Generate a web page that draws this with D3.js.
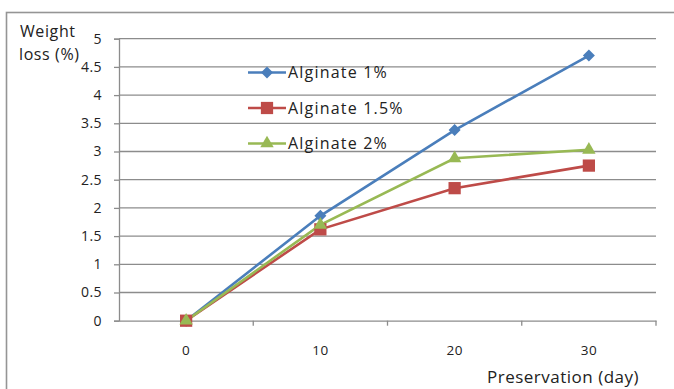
<!DOCTYPE html>
<html>
<head>
<meta charset="utf-8">
<script src="https://cdn.jsdelivr.net/npm/d3@7"></script>
<style>
  html, body { margin: 0; padding: 0; background: #fff; }
  svg { display: block; }
  text { font-family: "Open Sans", "Liberation Sans", sans-serif; fill: #222; }
</style>
</head>
<body>
<svg id="chart" width="674" height="389"></svg>
<script>
const categories = ["0", "10", "20", "30"];
const seriesNames = ["Alginate 1%", "Alginate 1.5%", "Alginate 2%"];
const alginate1 = [0, 1.86, 3.38, 4.70];
const alginate15 = [0, 1.62, 2.35, 2.75];
const alginate2 = [0, 1.70, 2.88, 3.03];
const yTicks = [0, 0.5, 1, 1.5, 2, 2.5, 3, 3.5, 4, 4.5, 5];
const yTickLabels = ["0", "0.5", "1", "1.5", "2", "2.5", "3", "3.5", "4", "4.5", "5"];

(function () {
const colors = ["#4a7ebb", "#be4b48", "#98b954"];
const series = [alginate1, alginate15, alginate2];
// marker generators: rotated square (diamond), square, triangle
const markerPath = [
  d3.symbol().type(d3.symbolSquare).size(72)(),
  d3.symbol().type(d3.symbolSquare).size(150)(),
  d3.symbol().type(d3.symbolTriangle).size(78)()
];
const markerRot = [45, 0, 0];

const svg = d3.select("#chart");

// outer frame (left and top visible)
svg.append("rect").attr("x", 6.5).attr("y", 12.5).attr("width", 700).attr("height", 400)
  .attr("fill", "#fff").attr("stroke", "#959595").attr("stroke-width", 1.6);

const pLeft = 119, pRight = 656, pTop = 38.7, pBottom = 320.7;

const x = d3.scaleBand().domain(categories).range([pLeft, pRight]).padding(0);
const y = d3.scaleLinear().domain([0, 5]).range([pBottom, pTop]);

// gridlines
svg.append("g").selectAll("line").data(yTicks.filter(d => d > 0)).join("line")
  .attr("x1", pLeft).attr("x2", pRight)
  .attr("y1", d => y(d)).attr("y2", d => y(d))
  .attr("stroke", "#8c8c8c").attr("stroke-width", 1.3);

// y axis
const yAxis = d3.axisLeft(y).tickValues(yTicks).tickSize(5).tickPadding(12)
  .tickFormat((d, i) => yTickLabels[i]);
const gy = svg.append("g").attr("transform", `translate(${pLeft},0)`).call(yAxis);
gy.select(".domain").attr("stroke", "#8c8c8c").attr("stroke-width", 1.3);
gy.selectAll(".tick line").attr("stroke", "#8c8c8c").attr("stroke-width", 1.3);
gy.selectAll(".tick text").attr("font-size", 14).attr("letter-spacing", 0.4)
  .attr("font-family", "Open Sans, sans-serif").attr("fill", "#222");

// x axis
const gx = svg.append("g").attr("transform", `translate(0,${pBottom})`)
  .call(d3.axisBottom(x).tickSize(0).tickPadding(25));
gx.select(".domain").attr("stroke", "#8c8c8c").attr("stroke-width", 1.3);
gx.selectAll(".tick text").attr("font-size", 13.5).attr("letter-spacing", 0.3)
  .attr("font-family", "Open Sans, sans-serif").attr("fill", "#222");
// category separator ticks
const seps = categories.map(c => x(c) + x.bandwidth());
svg.append("g").selectAll("line").data(seps).join("line")
  .attr("x1", d => d).attr("x2", d => d)
  .attr("y1", pBottom).attr("y2", pBottom + 5)
  .attr("stroke", "#8c8c8c").attr("stroke-width", 1.3);

const cx = c => x(c) + x.bandwidth() / 2;
const line = d3.line().x((d, i) => cx(categories[i])).y(d => y(d));

series.forEach((s, k) => {
  svg.append("path").datum(s).attr("d", line)
    .attr("fill", "none").attr("stroke", colors[k]).attr("stroke-width", 2.6);
});
series.forEach((s, k) => {
  svg.append("g").selectAll("path").data(s).join("path")
    .attr("transform", (d, i) => `translate(${cx(categories[i])},${y(d)}) rotate(${markerRot[k]})`)
    .attr("d", markerPath[k])
    .attr("fill", colors[k]);
});

// legend
const legY = [72.5, 108, 143.5];
seriesNames.forEach((n, k) => {
  const g = svg.append("g");
  g.append("line").attr("x1", 248).attr("x2", 286).attr("y1", legY[k]).attr("y2", legY[k])
    .attr("stroke", colors[k]).attr("stroke-width", 2.6);
  g.append("path").attr("transform", `translate(267,${legY[k]}) rotate(${markerRot[k]})`)
    .attr("d", markerPath[k]).attr("fill", colors[k]);
  g.append("text").attr("x", 288).attr("y", legY[k] + 5.5).attr("font-size", 16)
    .attr("letter-spacing", 1.2).text(n);
});

// axis titles
svg.append("text").attr("x", 20).attr("y", 37).attr("font-size", 16).attr("letter-spacing", 0.6).text("Weight");
svg.append("text").attr("x", 19).attr("y", 60).attr("font-size", 16).attr("letter-spacing", 0.6).text("loss (%)");
svg.append("text").attr("x", 487).attr("y", 383).attr("font-size", 17).attr("letter-spacing", 0.5).text("Preservation (day)");
})();
</script>
</body>
</html>
